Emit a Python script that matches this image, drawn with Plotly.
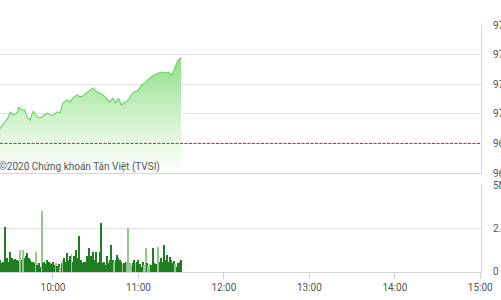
import plotly.graph_objects as go
import datetime as dt

DAY = "2020-06-01 "

# Price (index) series
price_times = ["09:15", "09:18", "09:21", "09:23", "09:25", "09:28", "09:30", "09:32", "09:35", "09:36",
               "09:38", "09:40", "09:42", "09:44", "09:46", "09:47", "09:49", "09:51", "09:53", "09:56",
               "09:58", "10:00", "10:03", "10:05", "10:07", "10:10", "10:12", "10:14", "10:17", "10:19",
               "10:21", "10:24", "10:26", "10:28", "10:31", "10:33", "10:35", "10:38", "10:40", "10:42",
               "10:44", "10:46", "10:48", "10:50", "10:53", "10:55", "10:57", "11:00", "11:02", "11:05",
               "11:08", "11:11", "11:14", "11:16", "11:19", "11:21", "11:23", "11:25", "11:27", "11:28",
               "11:30"]
price_values = [969.30, 969.50, 969.40, 969.52, 969.66, 969.82, 970.06, 969.96, 970.03, 970.23,
                970.13, 970.13, 969.89, 969.79, 970.09, 970.03, 969.89, 969.86, 969.93, 970.03,
                969.96, 969.96, 970.06, 970.03, 970.37, 970.47, 970.40, 970.53, 970.64, 970.57,
                970.60, 970.74, 970.80, 970.87, 970.74, 970.70, 970.64, 970.50, 970.40, 970.53,
                970.37, 970.53, 970.30, 970.37, 970.47, 970.64, 970.74, 970.80, 970.97, 971.07,
                971.21, 971.31, 971.38, 971.41, 971.38, 971.41, 971.31, 971.48, 971.72, 971.82,
                971.89]
reference_price = 969.0

# Volume per minute from 09:15 to 11:30
volume_start = "09:15"
volume_m = [1.2, 0.9, 0.8, 0.7, 0.8, 0.6, 0.7, 0.6, 0.7, 0.5,
            0.6, 2.6, 0.5, 0.8, 0.6, 1.15, 0.8, 0.7, 0.75, 0.6,
            0.7, 0.65, 1.26, 0.7, 1.26, 0.8, 0.9, 1.09, 0.8, 0.7,
            0.55, 0.6, 0.5, 1.15, 0.4, 0.5, 0.3, 3.5, 0.5, 0.6,
            0.45, 0.7, 0.55, 0.5, 0.45, 0.55, 0.4, 0.5, 0.35, 0.45,
            0.3, 0.5, 0.7, 0.8, 0.6, 1.09, 0.7, 0.9, 1.03, 0.6,
            0.9, 1.26, 0.8, 2.07, 0.6, 0.7, 0.5, 0.6, 0.55, 0.9,
            1.38, 0.6, 0.9, 1.15, 0.7, 1.15, 0.5, 0.6, 1.15, 2.8,
            0.5, 0.6, 0.4, 0.9, 0.5, 0.7, 1.55, 0.7, 0.55, 0.7,
            1.0, 0.8, 0.7, 0.6, 0.45, 0.5, 0.55, 0.6, 2.52, 0.5,
            0.4, 0.5, 0.7, 0.5, 0.6, 0.7, 0.45, 0.3, 0.55, 0.4,
            1.38, 0.5, 0.35, 0.45, 0.4, 1.38, 0.5, 0.45, 0.4, 1.45,
            0.55, 0.8, 0.6, 1.55, 0.7, 1.0, 0.6, 0.86, 0.7, 0.5,
            0.65, 0.45, 0.3, 0.5, 0.55, 0.7]
volume_kind = list("ddddlddddddddddddddddd" "ldlddddddddldd" "dldddddddddlddl" "dldddddlddddddd"
                   "ddddddddddddddddddddd" "dldddddlddlllldd" "ldddddlldlldddddldddd" "dddddddlddddddd")

price_ticks = [968, 969, 970, 971, 972, 973]
volume_ticks = [0, 2.5e6, 5e6]
volume_tick_text = ["0", "2.5M", "5M"]
x_ticks = ["10:00", "11:00", "12:00", "13:00", "14:00", "15:00"]

# ---- build
def ts(s):
    return DAY + s + ":00" if len(s) == 5 else DAY + s

t0 = dt.datetime.strptime(DAY + volume_start, "%Y-%m-%d %H:%M")
vol_x = [(t0 + dt.timedelta(minutes=i)).strftime("%Y-%m-%d %H:%M:%S") for i in range(len(volume_m))]
vol_y = [v * 1e6 for v in volume_m]
kinds = (volume_kind + ["d"] * len(volume_m))[:len(volume_m)]
vol_col = ["#1f7d22" if k == "d" else "#93c98f" for k in kinds]

fig = go.Figure()
fig.add_trace(go.Scatter(
    x=[ts(t) for t in price_times], y=price_values, mode="lines",
    line=dict(color="#72d46c", width=1.2), fill="tozeroy",
    fillgradient=dict(type="vertical", start=968, stop=972,
                      colorscale=[[0, "rgba(255,255,255,1)"], [0.35, "rgb(222,246,218)"],
                                  [1, "rgb(140,224,132)"]]),
    xaxis="x", yaxis="y", hoverinfo="skip", showlegend=False))
fig.add_trace(go.Bar(
    x=vol_x, y=vol_y, marker=dict(color=vol_col, line=dict(width=0)), width=42000,
    xaxis="x2", yaxis="y2", showlegend=False))

x_range = [DAY + "09:22:48", DAY + "15:00:30"]
grid = "#e3e3e3"
tickfont = dict(family="Roboto, Arial, sans-serif", size=10, color="#555")

fig.update_layout(
    width=501, height=300, margin=dict(l=0, r=20, t=25, b=28, autoexpand=False),
    paper_bgcolor="white", plot_bgcolor="white", bargap=0,
    xaxis=dict(domain=[0, 1], range=x_range, type="date", showticklabels=False, showgrid=False,
               showline=True, linecolor="#d6d6d6", linewidth=1, anchor="y", zeroline=False,
               automargin=False),
    yaxis=dict(domain=[0.4008, 1], range=[968, 973], side="right", tickvals=price_ticks,
               ticktext=[str(v) for v in price_ticks], showgrid=True, gridcolor=grid,
               showline=True, linecolor="#d6d6d6", ticks="outside", ticklen=9,
               tickcolor="rgba(0,0,0,0)", tickfont=tickfont, zeroline=False, anchor="x",
               automargin=False),
    xaxis2=dict(domain=[0, 1], range=x_range, type="date", anchor="y2",
                tickvals=[ts(t) for t in x_ticks], ticktext=x_ticks, showgrid=False,
                showline=True, linecolor="#d6d6d6", ticks="outside", ticklen=6, tickcolor="#d0d0d0",
                tickfont=tickfont, zeroline=False, automargin=False),
    yaxis2=dict(domain=[0, 0.3522], range=[0, 5e6], side="right", tickvals=volume_ticks,
                ticktext=volume_tick_text, showgrid=True, gridcolor=grid, showline=True,
                linecolor="#d6d6d6", ticks="outside", ticklen=9, tickcolor="rgba(0,0,0,0)",
                tickfont=tickfont, zeroline=False, anchor="x2", automargin=False),
    shapes=[dict(type="line", xref="x domain", x0=0, x1=1, yref="y", y0=reference_price,
                 y1=reference_price, line=dict(color="#c62828", width=1, dash="3px,1.5px"))],
    annotations=[dict(text="©2020 Chứng khoán Tân Việt (TVSI)", xref="paper", x=-0.006,
                      xanchor="left", yref="y", y=968.2, yanchor="middle", showarrow=False,
                      font=dict(family="Roboto, Arial, sans-serif", size=10, color="#555"))],
)

fig.write_html("out.html")
